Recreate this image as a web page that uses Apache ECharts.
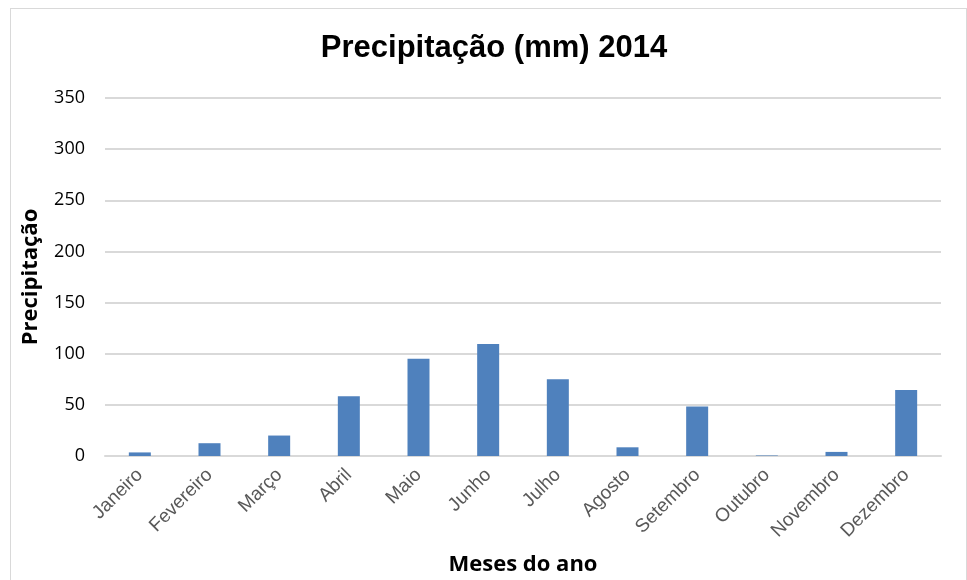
<!DOCTYPE html>
<html>
<head>
<meta charset="utf-8">
<script src="https://cdn.jsdelivr.net/npm/echarts@6/dist/echarts.min.js"></script>
<style>
  html, body { margin: 0; padding: 0; background: #fff; overflow: hidden; }
  #frame { position: absolute; left: 10px; top: 8px; width: 957px; height: 580px; border: 1px solid #d9d9d9; box-sizing: border-box; }
  #chart { position: absolute; left: 0; top: 0; width: 967px; height: 580px; }
</style>
</head>
<body>
<div id="frame"></div>
<div id="chart"></div>
<script>
// Monthly rainfall for 2014 (mm)
const months = ['Janeiro', 'Fevereiro', 'Março', 'Abril', 'Maio', 'Junho',
                'Julho', 'Agosto', 'Setembro', 'Outubro', 'Novembro', 'Dezembro'];
const rainfall = [3.5, 12.5, 20, 58.5, 95, 109.5, 75, 8.5, 48.5, 0.5, 4, 64.5];
const yTicks = [0, 50, 100, 150, 200, 250, 300, 350];

const chart = echarts.init(document.getElementById('chart'), null, { renderer: 'canvas' });
chart.setOption({
  animation: false,
  title: {
    text: 'Precipitação (mm) 2014',
    left: 489, top: 28, textAlign: 'center',
    textStyle: { fontFamily: 'Liberation Sans, Arial', fontWeight: 'bold', fontSize: 31, color: '#000' }
  },
  grid: { left: 105, right: 26, top: 98, bottom: 124, containLabel: false, outerBoundsMode: 'none' },
  xAxis: {
    type: 'category',
    data: months,
    axisLine: { lineStyle: { color: '#d9d9d9', width: 2 } },
    axisTick: { show: false },
    axisLabel: {
      rotate: 45, interval: 0, margin: 16,
      fontFamily: 'Liberation Sans, Arial', fontSize: 19, color: '#595959'
    },
    name: 'Meses do ano',
    nameLocation: 'middle', nameGap: 98,
    nameTextStyle: { fontFamily: 'Open Sans, Noto Sans', fontWeight: 'bold', fontSize: 22, color: '#000' }
  },
  yAxis: {
    type: 'value',
    min: yTicks[0], max: yTicks[yTicks.length - 1], interval: 50,
    axisLine: { show: false },
    axisTick: { show: false },
    splitLine: { lineStyle: { color: '#d9d9d9', width: 2 } },
    axisLabel: {
      margin: 20,
      fontFamily: 'Open Sans, Noto Sans', fontSize: 18, color: '#000'
    },
    name: 'Precipitação',
    nameLocation: 'middle', nameGap: 63, nameRotate: 90,
    nameTextStyle: { fontFamily: 'Open Sans, Noto Sans', fontWeight: 'bold', fontSize: 22, color: '#000' }
  },
  series: [{
    type: 'bar',
    data: rainfall,
    barWidth: 22,
    itemStyle: { color: '#4f81bd' }
  }]
});
</script>
</body>
</html>
